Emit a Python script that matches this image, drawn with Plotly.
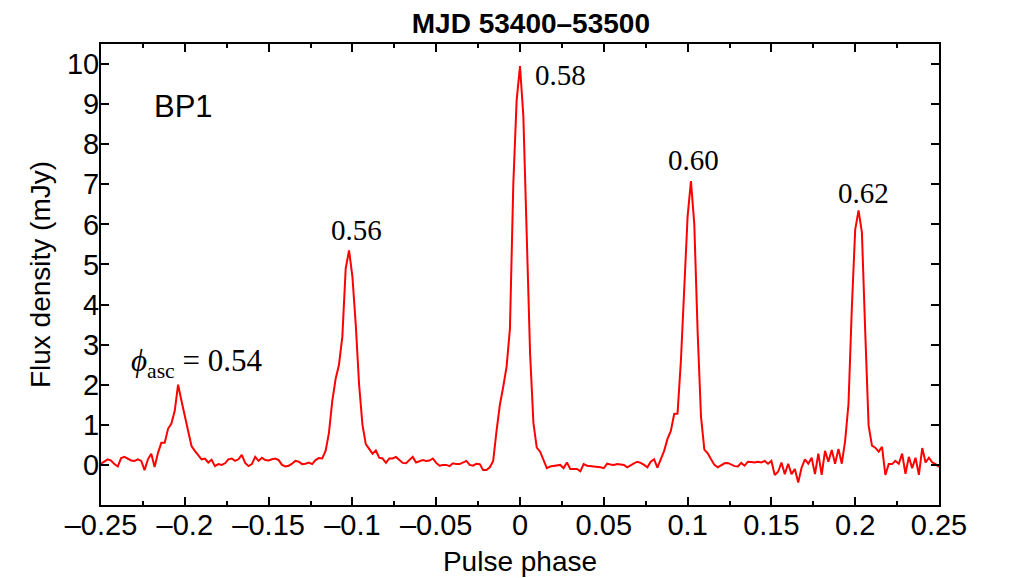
import numpy as np
import plotly.graph_objects as go

# ---- data ----
phase_start = -0.25
phase_step = 0.002
flux_mjy = [
    0.03, 0.08, 0.14, 0.11, 0.02, -0.04, 0.17, 0.20, 0.16, 0.11,
    0.10, 0.14, 0.10, -0.13, 0.14, 0.28, -0.05, 0.30, 0.55, 0.55,
    0.90, 1.03, 1.35, 2.00, 1.60, 1.20, 0.85, 0.47, 0.35, 0.25,
    0.14, 0.16, 0.06, 0.13, -0.03, 0.02, 0.00, 0.04, 0.14, 0.16,
    0.10, 0.14, 0.25, 0.05, -0.03, 0.02, 0.20, 0.10, 0.18, 0.12,
    0.11, 0.14, 0.16, 0.12, 0.00, -0.04, -0.02, 0.03, 0.10, 0.08,
    0.02, 0.03, 0.06, 0.02, 0.12, 0.17, 0.16, 0.35, 0.80, 1.60,
    2.15, 2.50, 3.20, 4.90, 5.35, 4.70, 3.50, 2.00, 1.00, 0.52,
    0.40, 0.28, 0.36, 0.18, 0.16, 0.05, 0.16, 0.16, 0.20, 0.12,
    0.05, 0.04, 0.12, 0.20, 0.06, 0.10, 0.12, 0.10, 0.11, 0.16,
    0.05, -0.02, 0.00, 0.00, -0.03, 0.04, 0.02, 0.02, 0.06, 0.10,
    0.00, -0.02, 0.03, 0.02, -0.13, -0.13, -0.06, 0.10, 0.85, 1.50,
    1.95, 2.45, 3.40, 7.00, 9.10, 9.95, 8.70, 5.60, 2.80, 1.05,
    0.43, 0.33, 0.10, -0.08, -0.04, -0.03, -0.01, 0.00, -0.08, 0.06,
    -0.10, -0.10, -0.10, -0.16, 0.02, -0.02, -0.03, -0.03, -0.04, -0.06,
    -0.08, 0.03, 0.01, 0.00, 0.02, 0.01, 0.00, -0.06, 0.00, 0.04,
    0.08, 0.05, 0.00, -0.06, 0.08, 0.14, -0.07, 0.15, 0.35, 0.65,
    0.85, 1.27, 1.28, 2.60, 4.60, 6.20, 7.08, 6.00, 3.30, 1.20,
    0.38, 0.29, 0.14, 0.00, -0.06, -0.02, 0.04, 0.05, 0.01, -0.03,
    -0.04, 0.05, -0.02, 0.08, 0.07, 0.06, 0.08, 0.06, 0.10, 0.03,
    0.10, -0.25, -0.17, 0.06, -0.23, 0.03, -0.23, -0.10, -0.44, -0.07,
    0.14, 0.03, 0.18, -0.23, 0.28, -0.25, 0.35, 0.08, 0.37, 0.03,
    0.40, 0.03, 0.60, 1.52, 3.93, 5.87, 6.35, 5.80, 3.30, 0.98,
    0.48, 0.43, 0.33, 0.45, -0.25, 0.02, 0.02, 0.10, 0.03, 0.28,
    -0.22, 0.20, -0.08, 0.18, -0.25, 0.42, 0.06, 0.18, 0.06, 0.02,
    -0.05,
]
phase = np.round(phase_start + phase_step * np.arange(len(flux_mjy)), 4)

x_tick_vals = [-0.25, -0.2, -0.15, -0.1, -0.05, 0, 0.05, 0.1, 0.15, 0.2, 0.25]
x_tick_text = ["\u20130.25", "\u20130.2", "\u20130.15", "\u20130.1", "\u20130.05",
               "0", "0.05", "0.1", "0.15", "0.2", "0.25"]
y_tick_vals = list(range(0, 11))

# peak labels: (text, x, y, xanchor, size)
peak_labels = [
    ("<i>\u03d5</i><sub>asc</sub> = 0.54", -0.193, 2.55, "center", 31),
    ("0.56", -0.0973, 5.85, "center", 29),
    ("0.58", 0.0078, 9.72, "left", 29),
    ("0.60", 0.1038, 7.6, "center", 29),
    ("0.62", 0.2047, 6.78, "center", 29),
]

SANS = "Liberation Sans, Arial, Helvetica, sans-serif"
SERIF = "Liberation Serif, Times New Roman, serif"

fig = go.Figure()
fig.add_trace(go.Scatter(
    x=phase, y=flux_mjy, mode="lines",
    line=dict(color="#ff0000", width=2),
    showlegend=False, hoverinfo="skip",
))

for text, xx, yy, xa, sz in peak_labels:
    fig.add_annotation(x=xx, y=yy, text=text, showarrow=False, xanchor=xa,
                       yanchor="middle", font=dict(family=SERIF, size=sz, color="black"))

fig.add_annotation(x=-0.2005, y=8.93, text="BP1", showarrow=False,
                   xanchor="center", yanchor="middle",
                   font=dict(family=SANS, size=31, color="black"))

axis_common = dict(
    showline=True, linecolor="black", linewidth=2, mirror="ticks",
    ticks="inside", tickcolor="black", tickwidth=1.5, ticklen=8,
    showgrid=False, zeroline=False, automargin=False,
    tickfont=dict(family=SANS, size=29, color="black"),
)

fig.update_xaxes(
    range=[-0.25, 0.25], tickvals=x_tick_vals, ticktext=x_tick_text,
    minor=dict(ticks="inside", ticklen=4, tickwidth=1.5, tickcolor="black", dtick=0.025, tick0=0),
    ticklabelstandoff=-7,
    title=dict(text="Pulse phase", font=dict(family=SANS, size=28, color="black"), standoff=12),
    **axis_common,
)
fig.update_yaxes(
    range=[-1.0, 10.5], tickvals=y_tick_vals,
    ticklabelstandoff=-6,
    title=dict(text="Flux density (mJy)", font=dict(family=SANS, size=28, color="black"), standoff=8),
    **axis_common,
)

# the page body has an 8 px default margin, so the figure is offset by 8 px
fig.update_layout(
    width=1012, height=578,
    margin=dict(l=93, r=81, t=36, b=81, autoexpand=False),
    paper_bgcolor="white", plot_bgcolor="white",
    title=dict(text="<b>MJD 53400\u201353500</b>", x=0.513, xanchor="center",
               xref="paper", y=0.974, yref="container", yanchor="middle",
               font=dict(family=SANS, size=28, color="black")),
)

fig.write_html("out.html")
